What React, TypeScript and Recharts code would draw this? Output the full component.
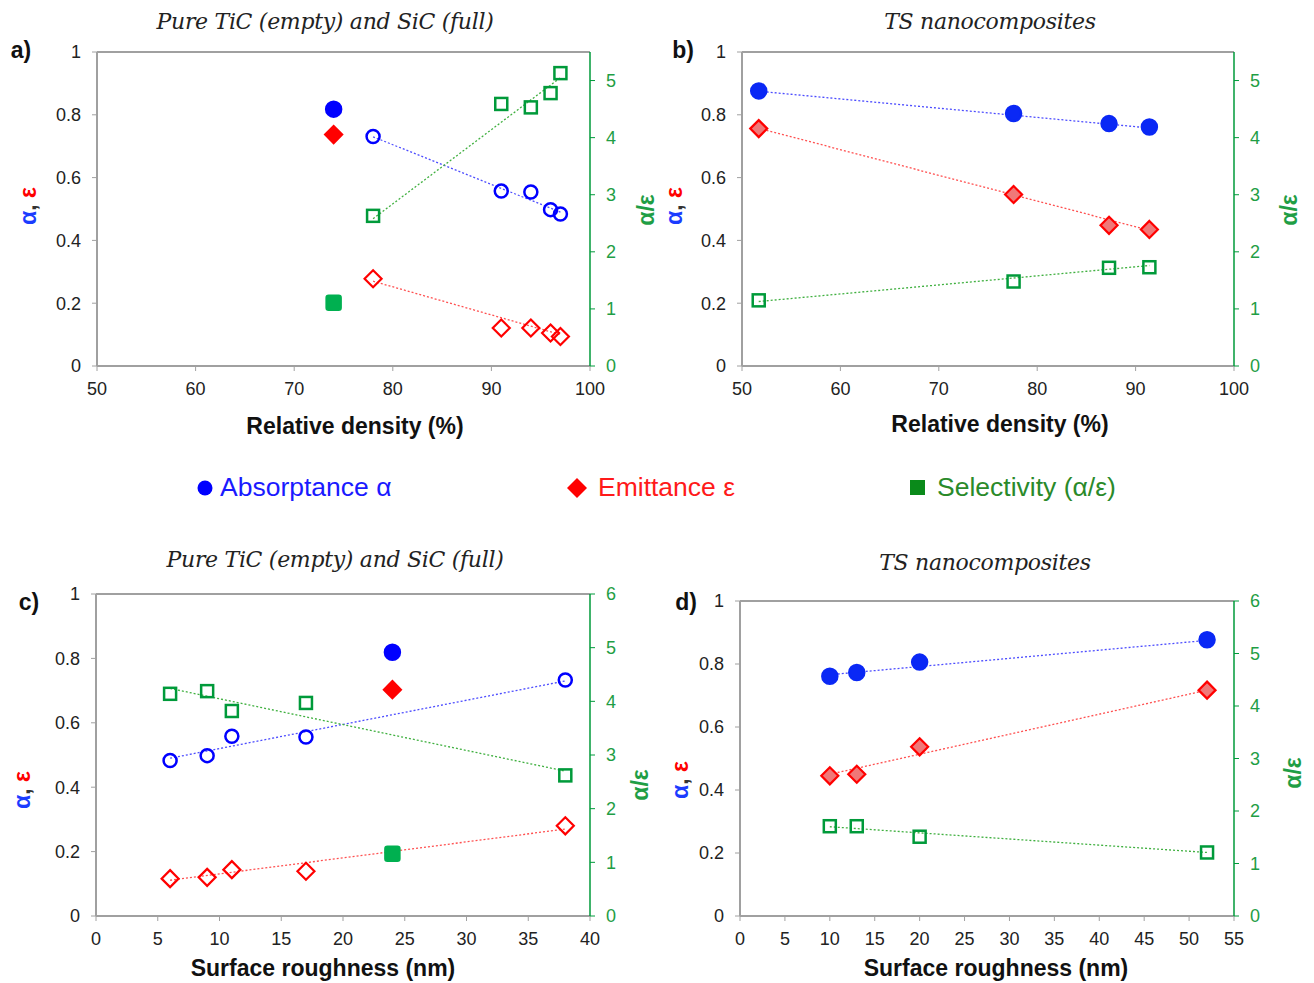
import React from 'react';
import {
  ScatterChart,
  Scatter,
  XAxis,
  YAxis,
  ReferenceLine,
} from 'recharts';

// ---- panel a) Pure TiC (empty) and SiC (full) vs relative density ----
const A_TIC_X = [78, 91, 94, 96, 97];
const A_TIC_ABS = [0.731, 0.557, 0.554, 0.498, 0.484];
const A_TIC_EMI = [0.278, 0.121, 0.121, 0.105, 0.094];
const A_TIC_SEL = [2.63, 4.59, 4.53, 4.78, 5.13];
const A_SIC_X = [74];
const A_SIC_ABS = [0.818];
const A_SIC_EMI = [0.737];
const A_SIC_SEL = [1.11];
const A_TREND_X = [78, 97];
const A_TREND_ABS = [0.73, 0.49];
const A_TREND_EMI = [0.27, 0.1];
const A_TREND_SEL = [2.58, 5.05];

// ---- panel b) TS nanocomposites vs relative density ----
const B_X = [51.7, 77.6, 87.3, 91.4];
const B_ABS = [0.876, 0.804, 0.772, 0.761];
const B_EMI = [0.756, 0.546, 0.448, 0.435];
const B_SEL = [1.15, 1.48, 1.72, 1.73];
const B_TREND_X = [51.7, 91.4];
const B_TREND_ABS = [0.875, 0.758];
const B_TREND_EMI = [0.757, 0.432];
const B_TREND_SEL = [1.13, 1.76];

// ---- panel c) Pure TiC / SiC vs surface roughness ----
const C_TIC_X = [6, 9, 11, 17, 38];
const C_TIC_ABS = [0.483, 0.498, 0.558, 0.556, 0.733];
const C_TIC_EMI = [0.116, 0.12, 0.144, 0.139, 0.28];
const C_TIC_SEL = [4.14, 4.19, 3.82, 3.97, 2.62];
const C_SIC_X = [24];
const C_SIC_ABS = [0.819];
const C_SIC_EMI = [0.703];
const C_SIC_SEL = [1.16];
const C_TREND_X = [6, 38];
const C_TREND_ABS = [0.49, 0.73];
const C_TREND_EMI = [0.111, 0.27];
const C_TREND_SEL = [4.24, 2.7];

// ---- panel d) TS nanocomposites vs surface roughness ----
const D_X = [10, 13, 20, 52];
const D_ABS = [0.761, 0.773, 0.806, 0.877];
const D_EMI = [0.445, 0.45, 0.537, 0.717];
const D_SEL = [1.71, 1.71, 1.51, 1.21];
const D_TREND_X = [10, 52];
const D_TREND_ABS = [0.766, 0.875];
const D_TREND_EMI = [0.45, 0.717];
const D_TREND_SEL = [1.7, 1.21];

const DENSITY_TICKS = [50, 60, 70, 80, 90, 100];
const ROUGH_C_TICKS = [0, 5, 10, 15, 20, 25, 30, 35, 40];
const ROUGH_D_TICKS = [0, 5, 10, 15, 20, 25, 30, 35, 40, 45, 50, 55];
const LEFT_TICKS = [0, 0.2, 0.4, 0.6, 0.8, 1];
const RIGHT_TICKS_5 = [0, 1, 2, 3, 4, 5];
const RIGHT_TICKS_6 = [0, 1, 2, 3, 4, 5, 6];

const BLUE = '#0000ff';
const RED = '#ff0000';
const GREEN = '#009a3a';
const GREEN_FILL = '#00b050';
const PINK = '#f07878';
const AXIS_GRAY = '#a0a0a0';
const FONT = '"Liberation Sans", Arial, sans-serif';

const zip = (xs: number[], ys: number[]) => xs.map((x, i) => ({ x, y: ys[i] }));

type Kind = 'circle' | 'diamond' | 'square' | 'trend';
type Series = {
  pts: { x: number; y: number }[];
  axis: 'left' | 'right';
  kind: Kind;
  fill: string;
  stroke: string;
};

const makeShape = (kind: Kind, fill: string, stroke: string) => (p: any) => {
  const { cx, cy } = p;
  if (kind === 'circle') {
    return <circle cx={cx} cy={cy} r={fill === 'none' ? 6.5 : 7.5} fill={fill} stroke={stroke} strokeWidth={2.5} />;
  }
  if (kind === 'diamond') {
    const r = 8.5;
    return (
      <path
        d={`M${cx},${cy - r}L${cx + r},${cy}L${cx},${cy + r}L${cx - r},${cy}Z`}
        fill={fill}
        stroke={stroke}
        strokeWidth={2.2}
      />
    );
  }
  if (kind === 'square') {
    const h = fill === 'none' ? 6 : 7;
    return <rect x={cx - h} y={cy - h} width={h * 2} height={h * 2} rx={fill === 'none' ? 0 : 2} fill={fill} stroke={stroke} strokeWidth={2.5} />;
  }
  return <g />;
};

type PanelProps = {
  left: number;
  top: number;
  width: number;
  height: number;
  margin: { top: number; right: number; bottom: number; left: number };
  xDomain: [number, number];
  xTicks: number[];
  rDomain: [number, number];
  rTicks: number[];
  series: Series[];
};

function Panel({ left, top, width, height, margin, xDomain, xTicks, rDomain, rTicks, series }: PanelProps) {
  return (
    <div style={{ position: 'absolute', left, top }}>
      <ScatterChart width={width} height={height} margin={margin}>
        <XAxis
          type="number"
          dataKey="x"
          domain={xDomain}
          ticks={xTicks}
          interval={0}
          height={30}
          stroke={AXIS_GRAY}
          axisLine={{ stroke: AXIS_GRAY, strokeWidth: 2 }}
          tickLine={{ stroke: AXIS_GRAY }}
          tickSize={5}
          tickMargin={11}
          tick={{ fill: '#222', fontSize: 18, fontFamily: FONT }}
        />
        <YAxis
          yAxisId="left"
          type="number"
          dataKey="y"
          domain={[0, 1]}
          ticks={LEFT_TICKS}
          interval={0}
          width={50}
          axisLine={{ stroke: AXIS_GRAY, strokeWidth: 2 }}
          tickLine={{ stroke: AXIS_GRAY }}
          tickSize={5}
          tickMargin={11}
          tick={{ fill: '#222', fontSize: 18, fontFamily: FONT }}
        />
        <YAxis
          yAxisId="right"
          orientation="right"
          type="number"
          dataKey="y"
          domain={rDomain}
          ticks={rTicks}
          interval={0}
          width={40}
          axisLine={{ stroke: GREEN, strokeWidth: 1.5 }}
          tickLine={{ stroke: GREEN }}
          tickSize={5}
          tickMargin={11}
          tick={{ fill: '#1f9e45', fontSize: 18, fontFamily: FONT }}
        />
        <ReferenceLine yAxisId="left" y={1} stroke={AXIS_GRAY} strokeWidth={2} />
        {series.map((s, i) =>
          s.kind === 'trend' ? (
            <Scatter
              key={i}
              yAxisId={s.axis}
              data={s.pts}
              isAnimationActive={false}
              line={{ stroke: s.stroke, strokeWidth: 1.3, strokeDasharray: '2 2' }}
              shape={makeShape('trend', 'none', 'none')}
            />
          ) : (
            <Scatter
              key={i}
              yAxisId={s.axis}
              data={s.pts}
              isAnimationActive={false}
              shape={makeShape(s.kind, s.fill, s.stroke)}
            />
          )
        )}
      </ScatterChart>
    </div>
  );
}

const trend = (xs: number[], ys: number[], axis: 'left' | 'right', stroke: string): Series => ({
  pts: zip(xs, ys),
  axis,
  kind: 'trend',
  fill: 'none',
  stroke,
});
const marks = (xs: number[], ys: number[], axis: 'left' | 'right', kind: Kind, fill: string, stroke: string): Series => ({
  pts: zip(xs, ys),
  axis,
  kind,
  fill,
  stroke,
});

const seriesA: Series[] = [
  trend(A_TREND_X, A_TREND_ABS, 'left', '#4d4dff'),
  trend(A_TREND_X, A_TREND_EMI, 'left', '#ff5050'),
  trend(A_TREND_X, A_TREND_SEL, 'right', '#40b040'),
  marks(A_TIC_X, A_TIC_ABS, 'left', 'circle', 'none', BLUE),
  marks(A_TIC_X, A_TIC_EMI, 'left', 'diamond', 'none', RED),
  marks(A_TIC_X, A_TIC_SEL, 'right', 'square', 'none', GREEN),
  marks(A_SIC_X, A_SIC_ABS, 'left', 'circle', BLUE, BLUE),
  marks(A_SIC_X, A_SIC_EMI, 'left', 'diamond', RED, RED),
  marks(A_SIC_X, A_SIC_SEL, 'right', 'square', GREEN_FILL, GREEN_FILL),
];

const seriesB: Series[] = [
  trend(B_TREND_X, B_TREND_ABS, 'left', '#4d4dff'),
  trend(B_TREND_X, B_TREND_EMI, 'left', '#ff5050'),
  trend(B_TREND_X, B_TREND_SEL, 'right', '#40b040'),
  marks(B_X, B_ABS, 'left', 'circle', '#0a28f5', '#0a28f5'),
  marks(B_X, B_EMI, 'left', 'diamond', PINK, RED),
  marks(B_X, B_SEL, 'right', 'square', 'none', GREEN),
];

const seriesC: Series[] = [
  trend(C_TREND_X, C_TREND_ABS, 'left', '#4d4dff'),
  trend(C_TREND_X, C_TREND_EMI, 'left', '#ff5050'),
  trend(C_TREND_X, C_TREND_SEL, 'right', '#40b040'),
  marks(C_TIC_X, C_TIC_ABS, 'left', 'circle', 'none', BLUE),
  marks(C_TIC_X, C_TIC_EMI, 'left', 'diamond', 'none', RED),
  marks(C_TIC_X, C_TIC_SEL, 'right', 'square', 'none', GREEN),
  marks(C_SIC_X, C_SIC_ABS, 'left', 'circle', BLUE, BLUE),
  marks(C_SIC_X, C_SIC_EMI, 'left', 'diamond', RED, RED),
  marks(C_SIC_X, C_SIC_SEL, 'right', 'square', GREEN_FILL, GREEN_FILL),
];

const seriesD: Series[] = [
  trend(D_TREND_X, D_TREND_ABS, 'left', '#4d4dff'),
  trend(D_TREND_X, D_TREND_EMI, 'left', '#ff5050'),
  trend(D_TREND_X, D_TREND_SEL, 'right', '#40b040'),
  marks(D_X, D_ABS, 'left', 'circle', '#0a28f5', '#0a28f5'),
  marks(D_X, D_EMI, 'left', 'diamond', PINK, RED),
  marks(D_X, D_SEL, 'right', 'square', 'none', GREEN),
];

function Txt({ x, y, rot = 0, style, children }: { x: number; y: number; rot?: number; style?: React.CSSProperties; children: React.ReactNode }) {
  return (
    <div
      style={{
        position: 'absolute',
        left: x,
        top: y,
        transform: `translate(-50%, -50%) rotate(${rot}deg)`,
        whiteSpace: 'nowrap',
        lineHeight: 1,
        ...style,
      }}
    >
      {children}
    </div>
  );
}

const titleStyle: React.CSSProperties = { fontFamily: '"DejaVu Serif", serif', fontStyle: 'italic', fontSize: 22, color: '#222', letterSpacing: -0.3 };
const xTitleStyle: React.CSSProperties = { fontFamily: FONT, fontWeight: 'bold', fontSize: 23, color: '#111' };
const panelLabelStyle: React.CSSProperties = { fontFamily: FONT, fontWeight: 'bold', fontSize: 23, color: '#111' };
const yLabelStyle: React.CSSProperties = { fontFamily: FONT, fontWeight: 'bold', fontSize: 23 };

const LeftLabel = ({ x, y }: { x: number; y: number }) => (
  <Txt x={x} y={y} rot={-90} style={yLabelStyle}>
    <span style={{ color: '#1b3cff' }}>α</span>
    <span style={{ color: '#333' }}>, </span>
    <span style={{ color: RED }}>ε</span>
  </Txt>
);
const RightLabel = ({ x, y }: { x: number; y: number }) => (
  <Txt x={x} y={y} rot={-90} style={{ ...yLabelStyle, color: '#1f9e45' }}>
    α/ε
  </Txt>
);

const legendBase: React.CSSProperties = { position: 'absolute', top: 472, display: 'flex', alignItems: 'center', fontFamily: FONT, fontSize: 26.5 };

export default function App() {
  return (
    <div style={{ position: 'absolute', left: 0, top: 0, width: 1314, height: 983, background: '#fff', overflow: 'hidden' }}>
      <Panel
        left={0}
        top={0}
        width={660}
        height={440}
        margin={{ top: 52, right: 30, bottom: 44, left: 47 }}
        xDomain={[50, 100]}
        xTicks={DENSITY_TICKS}
        rDomain={[0, 5.5]}
        rTicks={RIGHT_TICKS_5}
        series={seriesA}
      />
      <Panel
        left={655}
        top={0}
        width={659}
        height={440}
        margin={{ top: 52, right: 40, bottom: 44, left: 37 }}
        xDomain={[50, 100]}
        xTicks={DENSITY_TICKS}
        rDomain={[0, 5.5]}
        rTicks={RIGHT_TICKS_5}
        series={seriesB}
      />
      <Panel
        left={0}
        top={540}
        width={660}
        height={443}
        margin={{ top: 54, right: 30, bottom: 37, left: 46 }}
        xDomain={[0, 40]}
        xTicks={ROUGH_C_TICKS}
        rDomain={[0, 6]}
        rTicks={RIGHT_TICKS_6}
        series={seriesC}
      />
      <Panel
        left={655}
        top={540}
        width={659}
        height={443}
        margin={{ top: 61, right: 40, bottom: 37, left: 35 }}
        xDomain={[0, 55]}
        xTicks={ROUGH_D_TICKS}
        rDomain={[0, 6]}
        rTicks={RIGHT_TICKS_6}
        series={seriesD}
      />

      {/* titles */}
      <Txt x={325} y={22} style={titleStyle}>Pure TiC (empty) and SiC (full)</Txt>
      <Txt x={990} y={22} style={titleStyle}>TS nanocomposites</Txt>
      <Txt x={335} y={560} style={titleStyle}>Pure TiC (empty) and SiC (full)</Txt>
      <Txt x={985} y={563} style={titleStyle}>TS nanocomposites</Txt>

      {/* panel letters */}
      <Txt x={21} y={50} style={panelLabelStyle}>a)</Txt>
      <Txt x={683} y={50} style={panelLabelStyle}>b)</Txt>
      <Txt x={29} y={602} style={panelLabelStyle}>c)</Txt>
      <Txt x={686} y={602} style={panelLabelStyle}>d)</Txt>

      {/* axis titles */}
      <Txt x={355} y={426} style={xTitleStyle}>Relative density (%)</Txt>
      <Txt x={1000} y={424} style={xTitleStyle}>Relative density (%)</Txt>
      <Txt x={323} y={968} style={xTitleStyle}>Surface roughness (nm)</Txt>
      <Txt x={996} y={968} style={xTitleStyle}>Surface roughness (nm)</Txt>

      <LeftLabel x={28} y={206} />
      <LeftLabel x={674} y={206} />
      <LeftLabel x={22} y={790} />
      <LeftLabel x={680} y={780} />
      <RightLabel x={646} y={210} />
      <RightLabel x={1289} y={210} />
      <RightLabel x={640} y={785} />
      <RightLabel x={1293} y={773} />

      {/* shared legend */}
      <div style={{ ...legendBase, left: 196, color: '#1a1aff' }}>
        <svg width={18} height={18} style={{ marginRight: 6 }}>
          <circle cx={9} cy={9} r={7.5} fill={BLUE} />
        </svg>
        Absorptance α
      </div>
      <div style={{ ...legendBase, left: 566, color: '#ff1a1a' }}>
        <svg width={22} height={22} style={{ marginRight: 10 }}>
          <path d="M11,1L21,11L11,21L1,11Z" fill={RED} />
        </svg>
        Emittance ε
      </div>
      <div style={{ ...legendBase, left: 909, color: '#2a8a2a' }}>
        <svg width={18} height={18} style={{ marginRight: 10 }}>
          <rect x={1} y={1} width={15} height={15} fill="#0a8a1a" />
        </svg>
        Selectivity (α/ε)
      </div>
    </div>
  );
}
